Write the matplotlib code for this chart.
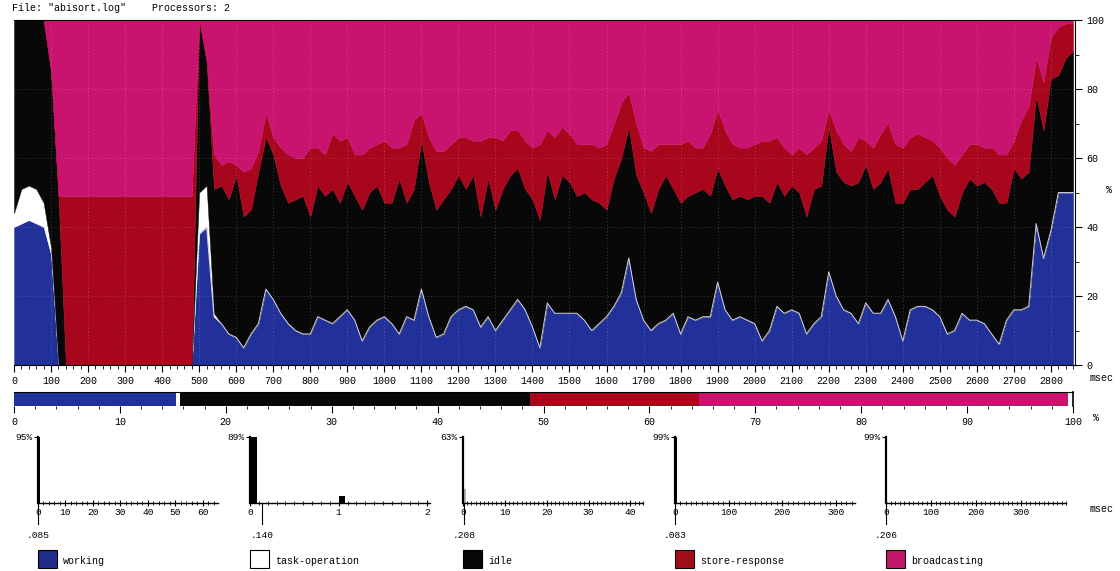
import numpy as np
import matplotlib
matplotlib.use("Agg")
import matplotlib.pyplot as plt
from matplotlib.patches import Rectangle
from matplotlib.ticker import MultipleLocator

MONO = "Liberation Mono"
plt.rcParams["font.family"] = [MONO, "DejaVu Sans Mono"]
FS = 7.2
plt.rcParams["font.size"] = FS

# ---------------- data ----------------
states = ["working", "task-operation", "idle", "store-response", "broadcasting"]
colors = ["#22309a", "#ffffff", "#080808", "#a8061c", "#c8146f"]
legend_colors = ["#1e2c8c", "#ffffff", "#080808", "#a00e1a", "#c4156c"]

time_ms = np.arange(0, 2861, 20)

working = [
    40, 41, 42, 41, 40, 32, 0,
    0, 0, 0, 0, 0, 0, 0, 0, 0, 0, 0, 0, 0, 0, 0, 0, 0, 0,
    38, 40, 14,
    12, 9, 8, 5, 9, 12, 22, 19, 15, 12,
    10, 9, 9, 14, 13, 12, 14, 16, 13, 7,
    11, 13, 14, 12, 9, 14, 13, 22, 14, 8,
    9, 14, 16, 17, 16, 11, 14, 10, 13, 16,
    19, 16, 11, 5, 18, 15, 15, 15, 15, 13,
    10, 12, 14, 17, 21, 31, 19, 13, 10, 12,
    13, 15, 9, 14, 13, 14, 14, 24, 16, 13,
    14, 13, 12, 7, 10, 17, 15, 16, 15, 9,
    12, 14, 27, 20, 16, 15, 12, 18, 15, 15,
    19, 14, 7, 16, 17, 17, 16, 14, 9, 10,
    15, 13, 13, 12, 9, 6, 13, 16, 16, 17,
    41, 31, 39, 50, 50, 50,
]
task_operation = [
    4, 10, 10, 10, 7, 2, 0,
    0, 0, 0, 0, 0, 0, 0, 0, 0, 0, 0, 0, 0, 0, 0, 0, 0, 0,
    12, 12, 1,
    0, 0, 0, 0, 0, 0, 0, 0, 0, 0,
    0, 0, 0, 0, 0, 0, 0, 0, 0, 0,
    0, 0, 0, 0, 0, 0, 0, 0, 0, 0,
    0, 0, 0, 0, 0, 0, 0, 0, 0, 0,
    0, 0, 0, 0, 0, 0, 0, 0, 0, 0,
    0, 0, 0, 0, 0, 0, 0, 0, 0, 0,
    0, 0, 0, 0, 0, 0, 0, 0, 0, 0,
    0, 0, 0, 0, 0, 0, 0, 0, 0, 0,
    0, 0, 0, 0, 0, 0, 0, 0, 0, 0,
    0, 0, 0, 0, 0, 0, 0, 0, 0, 0,
    0, 0, 0, 0, 0, 0, 0, 0, 0, 0,
    0, 0, 0, 0, 0, 0,
]
idle = [
    56, 49, 48, 49, 53, 51, 49,
    0, 0, 0, 0, 0, 0, 0, 0, 0, 0, 0, 0, 0, 0, 0, 0, 0, 0,
    50, 36, 36,
    40, 39, 47, 38, 36, 44, 44, 42, 37, 35,
    38, 40, 34, 38, 36, 39, 33, 37, 36, 38,
    39, 39, 33, 35, 45, 33, 38, 43, 39, 37,
    39, 37, 39, 34, 39, 32, 40, 35, 38, 39,
    38, 35, 37, 37, 38, 33, 40, 38, 34, 37,
    38, 35, 31, 37, 39, 38, 36, 37, 34, 39,
    42, 36, 38, 35, 37, 37, 35, 33, 36, 35,
    35, 35, 37, 42, 37, 36, 34, 36, 35, 34,
    39, 38, 42, 36, 37, 37, 41, 40, 36, 38,
    38, 33, 40, 35, 34, 36, 39, 35, 36, 33,
    35, 41, 39, 41, 42, 41, 34, 41, 38, 39,
    37, 37, 44, 34, 39, 41,
]
store_response = [
    0, 0, 0, 0, 0, 0, 0,
    49, 49, 49, 49, 49, 49, 49, 49, 49, 49, 49, 49, 49, 49, 49, 49, 49, 49,
    0, 0, 10,
    6, 11, 3, 13, 12, 6, 7, 5, 11, 14,
    12, 11, 20, 11, 12, 16, 18, 13, 12, 16,
    13, 12, 18, 16, 9, 17, 20, 8, 13, 17,
    14, 13, 11, 15, 10, 22, 12, 21, 14, 13,
    11, 14, 15, 22, 12, 18, 14, 14, 15, 14,
    16, 16, 19, 16, 16, 10, 15, 13, 18, 13,
    9, 13, 17, 16, 13, 12, 18, 17, 16, 16,
    14, 15, 15, 16, 18, 13, 14, 9, 13, 18,
    12, 13, 5, 12, 11, 10, 13, 7, 12, 14,
    13, 17, 16, 15, 16, 13, 10, 14, 15, 15,
    11, 10, 12, 10, 12, 14, 14, 8, 17, 19,
    11, 14, 12, 14, 10, 8,
]
broadcasting = [
    0, 0, 0, 0, 0, 15, 51,
    51, 51, 51, 51, 51, 51, 51, 51, 51, 51, 51, 51, 51, 51, 51, 51, 51, 51,
    0, 12, 39,
    42, 41, 42, 44, 43, 38, 27, 34, 37, 39,
    40, 40, 37, 37, 39, 33, 35, 34, 39, 39,
    37, 36, 35, 37, 37, 36, 29, 27, 34, 38,
    38, 36, 34, 34, 35, 35, 34, 34, 35, 32,
    32, 35, 37, 36, 32, 34, 31, 33, 36, 36,
    36, 37, 36, 30, 24, 21, 30, 37, 38, 36,
    36, 36, 36, 35, 37, 37, 33, 26, 32, 36,
    37, 37, 36, 35, 35, 34, 37, 39, 37, 39,
    37, 35, 26, 32, 36, 38, 34, 35, 37, 33,
    30, 36, 37, 34, 33, 34, 35, 37, 40, 42,
    39, 36, 36, 37, 37, 39, 39, 35, 29, 25,
    11, 18, 5, 2, 1, 1,
]

# summary bar (percent of total time per state)
summary_pct = [15.3, 0.4, 33.0, 16.0, 34.8]
summary_ticks = [0, 10, 20, 30, 40, 50, 60, 70, 80, 90, 100]

# histograms of state durations (msec): bars (left, width, height %)
hist_max_labels = [95, 89, 63, 99, 99]
hist_mean_marks = [0.085, 0.140, 0.208, 0.083, 0.206]
hist_mark_texts = [".085", ".140", ".208", ".083", ".206"]
hist_bar_left = [[0.0], [0.0, 1.0], [0.0, 0.25], [0.0], [0.0]]
hist_bar_width = [[0.8], [0.075, 0.07], [0.3, 0.55], [3.0], [3.0]]
hist_bar_height = [[95], [89, 10], [63, 13], [99], [99]]
hist_xmax = [65.5, 2.03, 43, 336, 400]
hist_xticks = [[0, 10, 20, 30, 40, 50, 60], [0, 1, 2], [0, 10, 20, 30, 40],
               [0, 100, 200, 300], [0, 100, 200, 300]]
hist_minor = [2, 0.1, 1, 10, 10]

# ---------------- figure ----------------
W, H = 1120, 571
fig = plt.figure(figsize=(W / 100, H / 100), dpi=100)


def fx(px):
    return px / W


def fy(py):
    return 1 - py / H


# main stacked area
ax = fig.add_axes([fx(14), fy(365), fx(1075) - fx(14), fy(20) - fy(365)])
layers = [working, task_operation, idle, store_response, broadcasting]
polys = ax.stackplot(time_ms, *layers, colors=colors, linewidth=0.3)
for p, c in zip(polys, colors):
    p.set_edgecolor(c)
ax.plot(time_ms[25:], working[25:], color="#cfd0e0", lw=0.7)
ax.set_xlim(0, 2865)
ax.set_ylim(0, 100)
for x in range(100, 2900, 100):
    ax.axvline(x, color="white", ls=(0, (1, 3)), lw=0.6, alpha=0.3)
for y in (20, 40, 60, 80):
    ax.axhline(y, color="white", ls=(0, (1, 3)), lw=0.6, alpha=0.25)
ax.xaxis.set_major_locator(MultipleLocator(100))
ax.xaxis.set_minor_locator(MultipleLocator(20))
ax.yaxis.tick_right()
ax.yaxis.set_major_locator(MultipleLocator(20))
ax.yaxis.set_minor_locator(MultipleLocator(10))
ax.tick_params(axis="both", which="major", length=5, width=0.8, labelsize=FS, pad=3)
ax.tick_params(axis="both", which="minor", length=3, width=0.6)
ax.tick_params(axis="y", which="both", left=False, right=True)
for s in ax.spines.values():
    s.set_linewidth(0.8)
ax.spines["left"].set_visible(False)
fig.text(fx(1090), fy(378), "msec", fontsize=FS, va="center", ha="left")
fig.text(fx(1106), fy(190), "%", fontsize=FS, va="center", ha="left")

fig.text(fx(12), fy(8), 'File: "abisort.log"', fontsize=FS, va="center", ha="left")
fig.text(fx(152), fy(8), "Processors: 2", fontsize=FS, va="center", ha="left")

# summary bar
bx = fig.add_axes([fx(14), fy(406), fx(1073) - fx(14), fy(392) - fy(406)])
left = 0
for v, c in zip(summary_pct, colors):
    bx.barh(0, v, left=left, height=1, color=c, edgecolor="none")
    left += v
bx.set_xlim(0, 100)
bx.set_ylim(-0.5, 0.5)
bx.set_yticks([])
bx.set_xticks(summary_ticks)
bx.xaxis.set_minor_locator(MultipleLocator(2))
bx.tick_params(axis="x", which="major", length=5, width=0.8, labelsize=FS, pad=3)
bx.tick_params(axis="x", which="minor", length=2.5, width=0.6)
bx.spines["left"].set_visible(False)
bx.spines["bottom"].set_visible(False)
bx.spines["top"].set_linewidth(0.8)
bx.spines["right"].set_linewidth(1.2)
fig.text(fx(1093), fy(418), "%", fontsize=FS, va="center", ha="left")

# histograms
hist_left_px = [38, 250, 463, 675, 886]
for i in range(5):
    hx = fig.add_axes([fx(hist_left_px[i]), fy(503), 180 / W, fy(437) - fy(503)])
    bar_col = ["#000000"] * len(hist_bar_left[i])
    if i == 2:
        bar_col = ["#000000", "#b0b0b0"]
    hx.bar(hist_bar_left[i], hist_bar_height[i], width=hist_bar_width[i],
           align="edge", color=bar_col, edgecolor="none")
    hx.set_xlim(0, hist_xmax[i])
    hx.set_ylim(0, hist_max_labels[i])
    hx.set_yticks([hist_max_labels[i]])
    hx.set_yticklabels([f"{hist_max_labels[i]}%"])
    hx.set_xticks(hist_xticks[i])
    hx.xaxis.set_minor_locator(MultipleLocator(hist_minor[i]))
    hx.tick_params(axis="y", length=3, width=0.8, labelsize=6.8, pad=1)
    hx.tick_params(axis="x", which="major", direction="inout", length=5, width=0.8,
                   labelsize=6.8, pad=1)
    hx.tick_params(axis="x", which="minor", direction="inout", length=3, width=0.6)
    hx.spines["top"].set_visible(False)
    hx.spines["right"].set_visible(False)
    hx.spines["left"].set_linewidth(1.6)
    hx.spines["bottom"].set_linewidth(1.0)
    hx.patch.set_alpha(0)
    m = hist_mean_marks[i]
    hx.plot([m, m], [0, -0.32], transform=hx.get_xaxis_transform(), color="black",
            lw=0.8, clip_on=False)
    hx.text(m, -0.42, hist_mark_texts[i], transform=hx.get_xaxis_transform(),
            ha="center", va="top", fontsize=6.8)
fig.text(fx(1090), fy(509), "msec", fontsize=FS, va="center", ha="left")

# legend
for i in range(5):
    x0 = hist_left_px[i]
    fig.add_artist(Rectangle((fx(x0), fy(568)), 19 / W, 18 / H, transform=fig.transFigure,
                             facecolor=legend_colors[i], edgecolor="black", lw=0.8))
    fig.text(fx(x0 + 25), fy(561), states[i], fontsize=FS, va="center", ha="left")

fig.savefig("out.png", dpi=100)
